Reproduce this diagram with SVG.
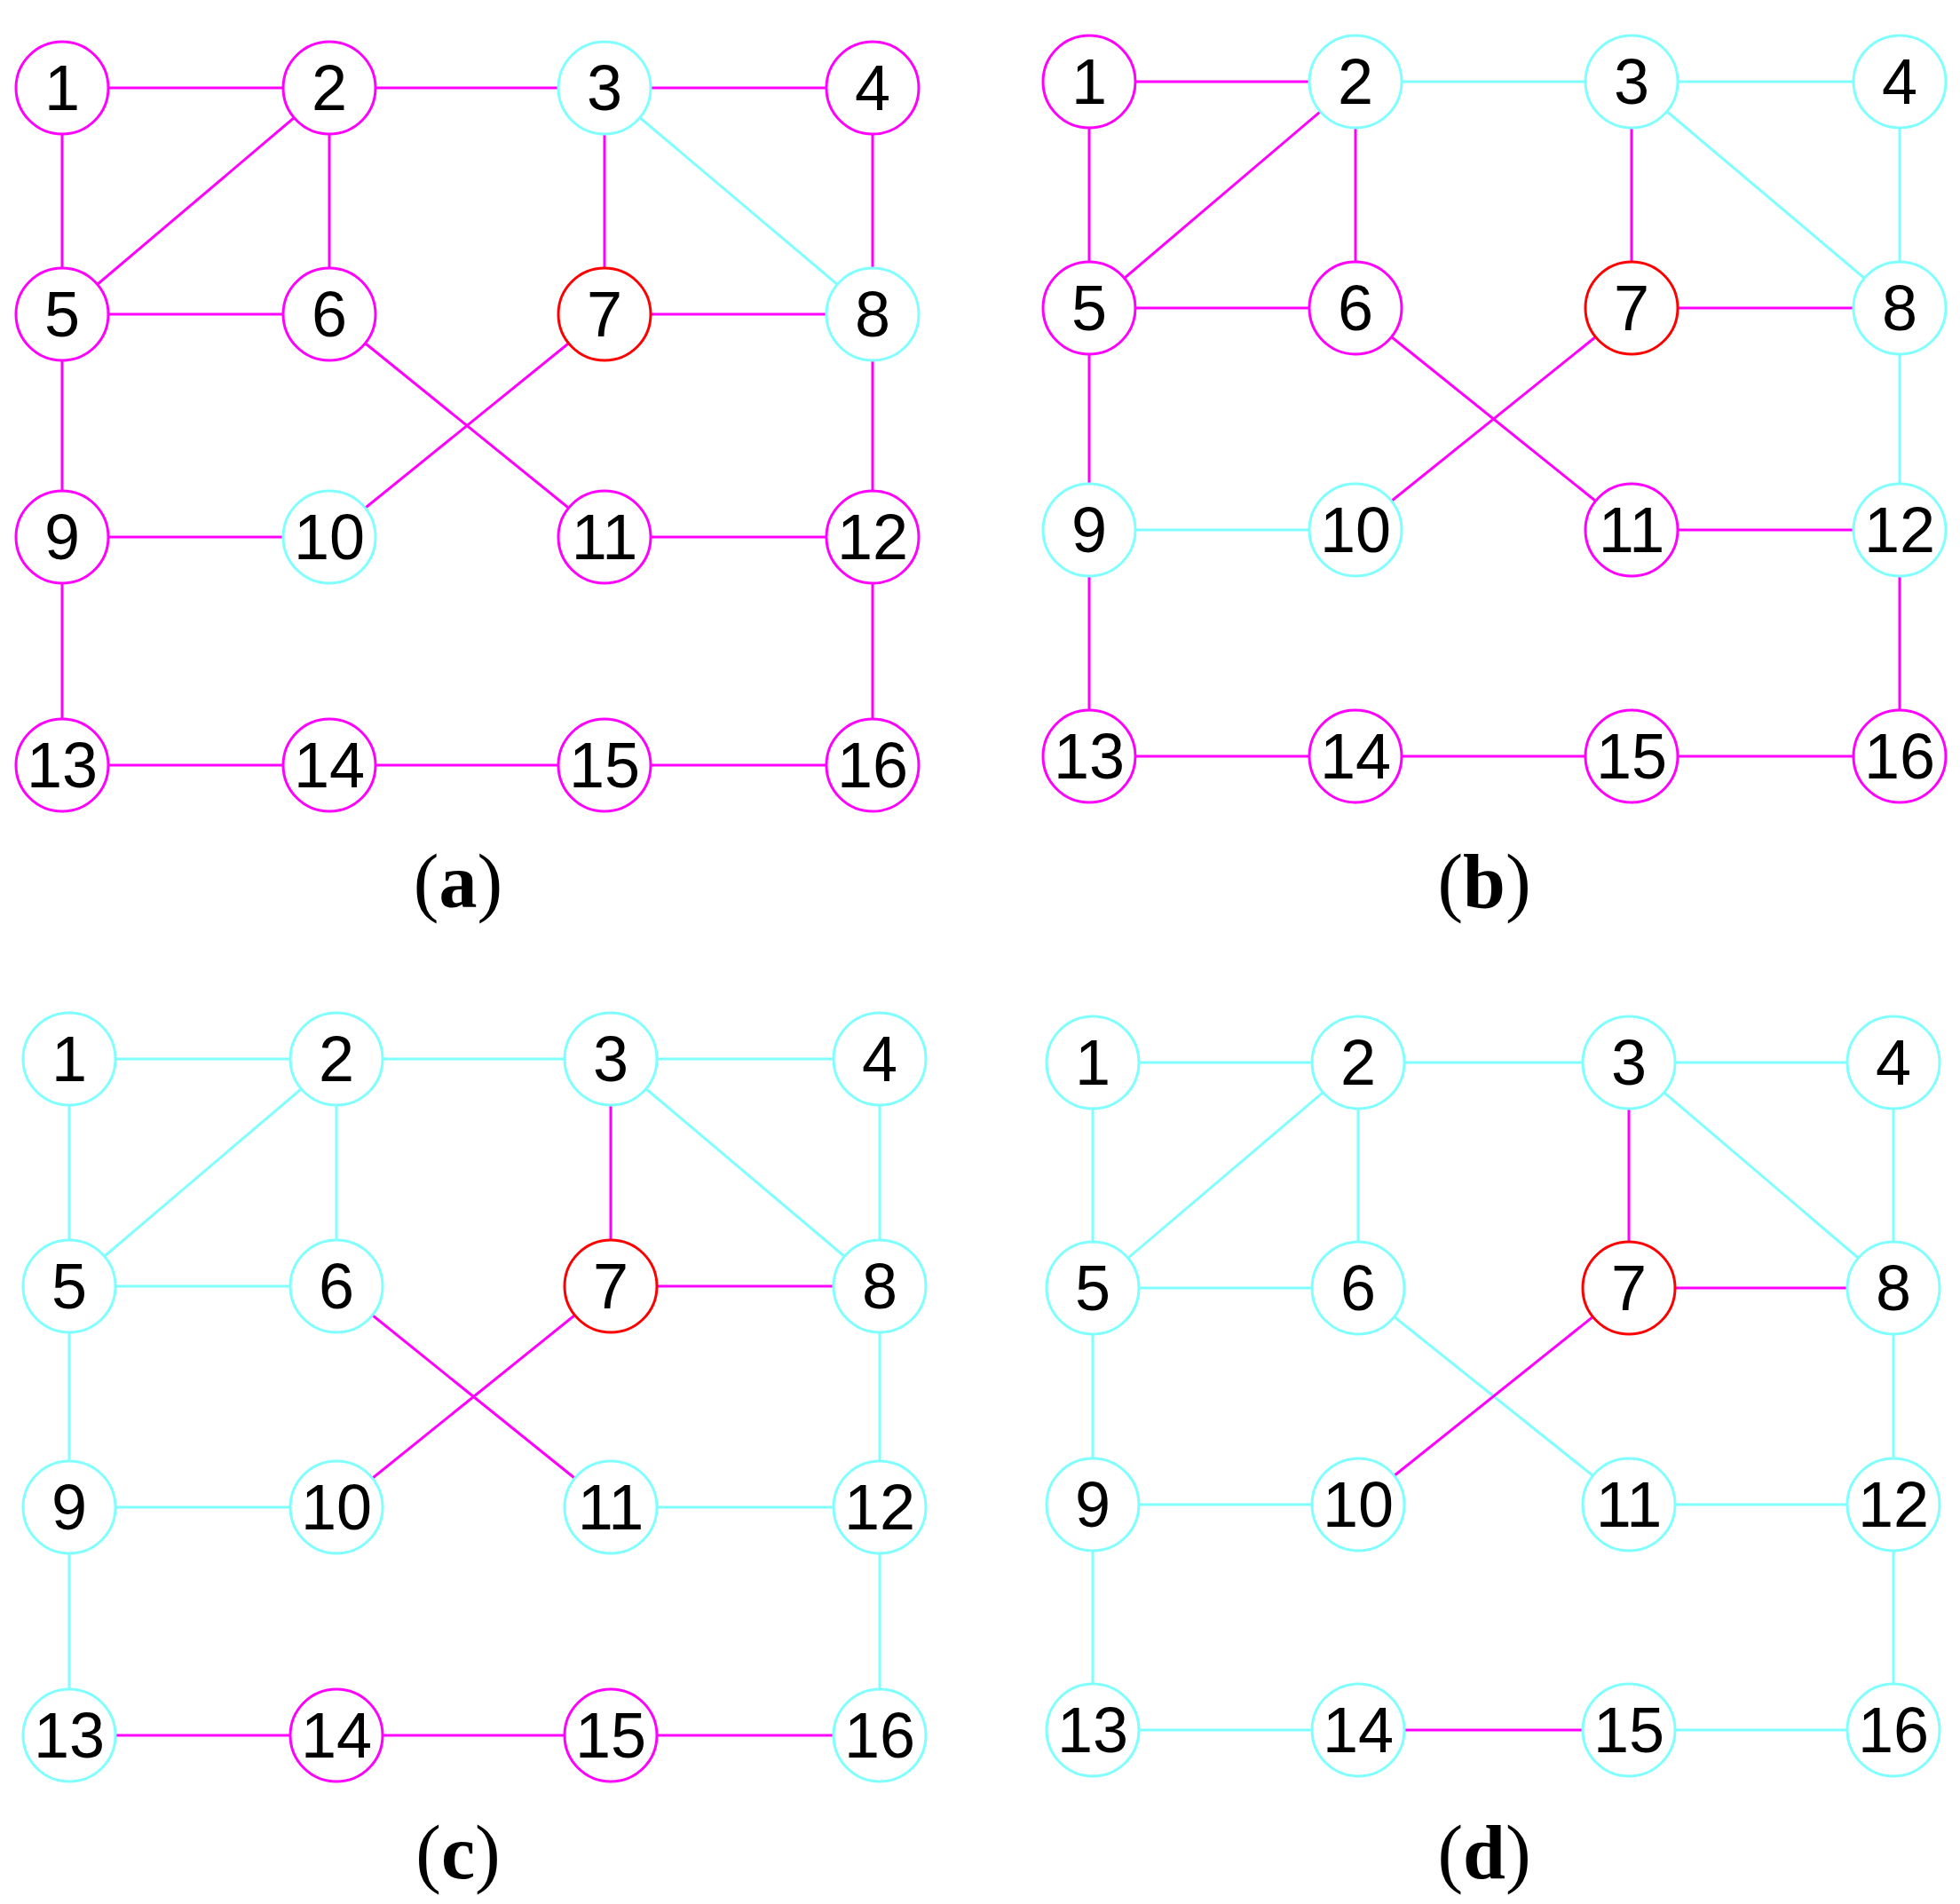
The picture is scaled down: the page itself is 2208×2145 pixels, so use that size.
<svg xmlns="http://www.w3.org/2000/svg" width="2208" height="2145" viewBox="0 0 2208 2145">
<style>
line{stroke-width:3}
.m{stroke:#FF00FF}.c{stroke:#80FFFF}.r{stroke:#FF0000}
circle{fill:#fff;stroke-width:3}
text.n{font-family:"Liberation Sans",Arial,sans-serif;font-size:72px;text-anchor:middle;dominant-baseline:central;fill:#000}
text.l{font-family:"Liberation Serif","Times New Roman",serif;font-size:86px;text-anchor:middle;fill:#000}
</style>
<rect width="2208" height="2145" fill="#fff"/>
<g id="connectors">
<line class="m" x1="70" y1="99" x2="371" y2="99"/><line class="m" x1="371" y1="99" x2="681" y2="99"/><line class="m" x1="681" y1="99" x2="983" y2="99"/>
<line class="m" x1="70" y1="99" x2="70" y2="354"/><line class="m" x1="371" y1="99" x2="70" y2="354"/><line class="m" x1="371" y1="99" x2="371" y2="354"/>
<line class="m" x1="681" y1="99" x2="681" y2="354"/><line class="c" x1="681" y1="99" x2="983" y2="354"/><line class="m" x1="983" y1="99" x2="983" y2="354"/>
<line class="m" x1="70" y1="354" x2="371" y2="354"/><line class="m" x1="681" y1="354" x2="983" y2="354"/>
<line class="m" x1="371" y1="354" x2="681" y2="605"/><line class="m" x1="681" y1="354" x2="371" y2="605"/>
<line class="m" x1="70" y1="354" x2="70" y2="605"/><line class="m" x1="983" y1="354" x2="983" y2="605"/>
<line class="m" x1="70" y1="605" x2="371" y2="605"/><line class="m" x1="681" y1="605" x2="983" y2="605"/>
<line class="m" x1="70" y1="605" x2="70" y2="862"/><line class="m" x1="983" y1="605" x2="983" y2="862"/>
<line class="m" x1="70" y1="862" x2="371" y2="862"/><line class="m" x1="371" y1="862" x2="681" y2="862"/><line class="m" x1="681" y1="862" x2="983" y2="862"/>
<line class="m" x1="1227" y1="92" x2="1527" y2="92"/><line class="c" x1="1527" y1="92" x2="1838" y2="92"/><line class="c" x1="1838" y1="92" x2="2140" y2="92"/>
<line class="m" x1="1227" y1="92" x2="1227" y2="347"/><line class="m" x1="1527" y1="92" x2="1227" y2="347"/><line class="m" x1="1527" y1="92" x2="1527" y2="347"/>
<line class="m" x1="1838" y1="92" x2="1838" y2="347"/><line class="c" x1="1838" y1="92" x2="2140" y2="347"/><line class="c" x1="2140" y1="92" x2="2140" y2="347"/>
<line class="m" x1="1227" y1="347" x2="1527" y2="347"/><line class="m" x1="1838" y1="347" x2="2140" y2="347"/>
<line class="m" x1="1527" y1="347" x2="1838" y2="597"/><line class="m" x1="1838" y1="347" x2="1527" y2="597"/>
<line class="m" x1="1227" y1="347" x2="1227" y2="597"/><line class="c" x1="2140" y1="347" x2="2140" y2="597"/>
<line class="c" x1="1227" y1="597" x2="1527" y2="597"/><line class="m" x1="1838" y1="597" x2="2140" y2="597"/>
<line class="m" x1="1227" y1="597" x2="1227" y2="852"/><line class="m" x1="2140" y1="597" x2="2140" y2="852"/>
<line class="m" x1="1227" y1="852" x2="1527" y2="852"/><line class="m" x1="1527" y1="852" x2="1838" y2="852"/><line class="m" x1="1838" y1="852" x2="2140" y2="852"/>
<line class="c" x1="78" y1="1193" x2="379" y2="1193"/><line class="c" x1="379" y1="1193" x2="688" y2="1193"/><line class="c" x1="688" y1="1193" x2="991" y2="1193"/>
<line class="c" x1="78" y1="1193" x2="78" y2="1449"/><line class="c" x1="379" y1="1193" x2="78" y2="1449"/><line class="c" x1="379" y1="1193" x2="379" y2="1449"/>
<line class="m" x1="688" y1="1193" x2="688" y2="1449"/><line class="c" x1="688" y1="1193" x2="991" y2="1449"/><line class="c" x1="991" y1="1193" x2="991" y2="1449"/>
<line class="c" x1="78" y1="1449" x2="379" y2="1449"/><line class="m" x1="688" y1="1449" x2="991" y2="1449"/>
<line class="m" x1="379" y1="1449" x2="688" y2="1698"/><line class="m" x1="688" y1="1449" x2="379" y2="1698"/>
<line class="c" x1="78" y1="1449" x2="78" y2="1698"/><line class="c" x1="991" y1="1449" x2="991" y2="1698"/>
<line class="c" x1="78" y1="1698" x2="379" y2="1698"/><line class="c" x1="688" y1="1698" x2="991" y2="1698"/>
<line class="c" x1="78" y1="1698" x2="78" y2="1955"/><line class="c" x1="991" y1="1698" x2="991" y2="1955"/>
<line class="m" x1="78" y1="1955" x2="379" y2="1955"/><line class="m" x1="379" y1="1955" x2="688" y2="1955"/><line class="m" x1="688" y1="1955" x2="991" y2="1955"/>
<line class="c" x1="1231" y1="1197" x2="1530" y2="1197"/><line class="c" x1="1530" y1="1197" x2="1835" y2="1197"/><line class="c" x1="1835" y1="1197" x2="2133" y2="1197"/>
<line class="c" x1="1231" y1="1197" x2="1231" y2="1451"/><line class="c" x1="1530" y1="1197" x2="1231" y2="1451"/><line class="c" x1="1530" y1="1197" x2="1530" y2="1451"/>
<line class="m" x1="1835" y1="1197" x2="1835" y2="1451"/><line class="c" x1="1835" y1="1197" x2="2133" y2="1451"/><line class="c" x1="2133" y1="1197" x2="2133" y2="1451"/>
<line class="c" x1="1231" y1="1451" x2="1530" y2="1451"/><line class="m" x1="1835" y1="1451" x2="2133" y2="1451"/>
<line class="c" x1="1530" y1="1451" x2="1835" y2="1695"/><line class="m" x1="1835" y1="1451" x2="1530" y2="1695"/>
<line class="c" x1="1231" y1="1451" x2="1231" y2="1695"/><line class="c" x1="2133" y1="1451" x2="2133" y2="1695"/>
<line class="c" x1="1231" y1="1695" x2="1530" y2="1695"/><line class="c" x1="1835" y1="1695" x2="2133" y2="1695"/>
<line class="c" x1="1231" y1="1695" x2="1231" y2="1949"/><line class="c" x1="2133" y1="1695" x2="2133" y2="1949"/>
<line class="c" x1="1231" y1="1949" x2="1530" y2="1949"/><line class="m" x1="1530" y1="1949" x2="1835" y2="1949"/><line class="c" x1="1835" y1="1949" x2="2133" y2="1949"/>
</g>
<g id="panel-a">
<g id="a1"><circle class="m" cx="70" cy="99" r="52"/><text class="n" x="70" y="99">1</text></g>
<g id="a2"><circle class="m" cx="371" cy="99" r="52"/><text class="n" x="371" y="99">2</text></g>
<g id="a3"><circle class="c" cx="681" cy="99" r="52"/><text class="n" x="681" y="99">3</text></g>
<g id="a4"><circle class="m" cx="983" cy="99" r="52"/><text class="n" x="983" y="99">4</text></g>
<g id="a5"><circle class="m" cx="70" cy="354" r="52"/><text class="n" x="70" y="354">5</text></g>
<g id="a6"><circle class="m" cx="371" cy="354" r="52"/><text class="n" x="371" y="354">6</text></g>
<g id="a7"><circle class="r" cx="681" cy="354" r="52"/><text class="n" x="681" y="354">7</text></g>
<g id="a8"><circle class="c" cx="983" cy="354" r="52"/><text class="n" x="983" y="354">8</text></g>
<g id="a9"><circle class="m" cx="70" cy="605" r="52"/><text class="n" x="70" y="605">9</text></g>
<g id="a10"><circle class="c" cx="371" cy="605" r="52"/><text class="n" x="371" y="605">10</text></g>
<g id="a11"><circle class="m" cx="681" cy="605" r="52"/><text class="n" x="681" y="605">11</text></g>
<g id="a12"><circle class="m" cx="983" cy="605" r="52"/><text class="n" x="983" y="605">12</text></g>
<g id="a13"><circle class="m" cx="70" cy="862" r="52"/><text class="n" x="70" y="862">13</text></g>
<g id="a14"><circle class="m" cx="371" cy="862" r="52"/><text class="n" x="371" y="862">14</text></g>
<g id="a15"><circle class="m" cx="681" cy="862" r="52"/><text class="n" x="681" y="862">15</text></g>
<g id="a16"><circle class="m" cx="983" cy="862" r="52"/><text class="n" x="983" y="862">16</text></g>
<text class="l" x="516" y="1022">(<tspan font-weight="bold">a</tspan>)</text>
</g>
<g id="panel-b">
<g id="b1"><circle class="m" cx="1227" cy="92" r="52"/><text class="n" x="1227" y="92">1</text></g>
<g id="b2"><circle class="c" cx="1527" cy="92" r="52"/><text class="n" x="1527" y="92">2</text></g>
<g id="b3"><circle class="c" cx="1838" cy="92" r="52"/><text class="n" x="1838" y="92">3</text></g>
<g id="b4"><circle class="c" cx="2140" cy="92" r="52"/><text class="n" x="2140" y="92">4</text></g>
<g id="b5"><circle class="m" cx="1227" cy="347" r="52"/><text class="n" x="1227" y="347">5</text></g>
<g id="b6"><circle class="m" cx="1527" cy="347" r="52"/><text class="n" x="1527" y="347">6</text></g>
<g id="b7"><circle class="r" cx="1838" cy="347" r="52"/><text class="n" x="1838" y="347">7</text></g>
<g id="b8"><circle class="c" cx="2140" cy="347" r="52"/><text class="n" x="2140" y="347">8</text></g>
<g id="b9"><circle class="c" cx="1227" cy="597" r="52"/><text class="n" x="1227" y="597">9</text></g>
<g id="b10"><circle class="c" cx="1527" cy="597" r="52"/><text class="n" x="1527" y="597">10</text></g>
<g id="b11"><circle class="m" cx="1838" cy="597" r="52"/><text class="n" x="1838" y="597">11</text></g>
<g id="b12"><circle class="c" cx="2140" cy="597" r="52"/><text class="n" x="2140" y="597">12</text></g>
<g id="b13"><circle class="m" cx="1227" cy="852" r="52"/><text class="n" x="1227" y="852">13</text></g>
<g id="b14"><circle class="m" cx="1527" cy="852" r="52"/><text class="n" x="1527" y="852">14</text></g>
<g id="b15"><circle class="m" cx="1838" cy="852" r="52"/><text class="n" x="1838" y="852">15</text></g>
<g id="b16"><circle class="m" cx="2140" cy="852" r="52"/><text class="n" x="2140" y="852">16</text></g>
<text class="l" x="1672" y="1022">(<tspan font-weight="bold">b</tspan>)</text>
</g>
<g id="panel-c">
<g id="c1"><circle class="c" cx="78" cy="1193" r="52"/><text class="n" x="78" y="1193">1</text></g>
<g id="c2"><circle class="c" cx="379" cy="1193" r="52"/><text class="n" x="379" y="1193">2</text></g>
<g id="c3"><circle class="c" cx="688" cy="1193" r="52"/><text class="n" x="688" y="1193">3</text></g>
<g id="c4"><circle class="c" cx="991" cy="1193" r="52"/><text class="n" x="991" y="1193">4</text></g>
<g id="c5"><circle class="c" cx="78" cy="1449" r="52"/><text class="n" x="78" y="1449">5</text></g>
<g id="c6"><circle class="c" cx="379" cy="1449" r="52"/><text class="n" x="379" y="1449">6</text></g>
<g id="c7"><circle class="r" cx="688" cy="1449" r="52"/><text class="n" x="688" y="1449">7</text></g>
<g id="c8"><circle class="c" cx="991" cy="1449" r="52"/><text class="n" x="991" y="1449">8</text></g>
<g id="c9"><circle class="c" cx="78" cy="1698" r="52"/><text class="n" x="78" y="1698">9</text></g>
<g id="c10"><circle class="c" cx="379" cy="1698" r="52"/><text class="n" x="379" y="1698">10</text></g>
<g id="c11"><circle class="c" cx="688" cy="1698" r="52"/><text class="n" x="688" y="1698">11</text></g>
<g id="c12"><circle class="c" cx="991" cy="1698" r="52"/><text class="n" x="991" y="1698">12</text></g>
<g id="c13"><circle class="c" cx="78" cy="1955" r="52"/><text class="n" x="78" y="1955">13</text></g>
<g id="c14"><circle class="m" cx="379" cy="1955" r="52"/><text class="n" x="379" y="1955">14</text></g>
<g id="c15"><circle class="m" cx="688" cy="1955" r="52"/><text class="n" x="688" y="1955">15</text></g>
<g id="c16"><circle class="c" cx="991" cy="1955" r="52"/><text class="n" x="991" y="1955">16</text></g>
<text class="l" x="516" y="2116">(<tspan font-weight="bold">c</tspan>)</text>
</g>
<g id="panel-d">
<g id="d1"><circle class="c" cx="1231" cy="1197" r="52"/><text class="n" x="1231" y="1197">1</text></g>
<g id="d2"><circle class="c" cx="1530" cy="1197" r="52"/><text class="n" x="1530" y="1197">2</text></g>
<g id="d3"><circle class="c" cx="1835" cy="1197" r="52"/><text class="n" x="1835" y="1197">3</text></g>
<g id="d4"><circle class="c" cx="2133" cy="1197" r="52"/><text class="n" x="2133" y="1197">4</text></g>
<g id="d5"><circle class="c" cx="1231" cy="1451" r="52"/><text class="n" x="1231" y="1451">5</text></g>
<g id="d6"><circle class="c" cx="1530" cy="1451" r="52"/><text class="n" x="1530" y="1451">6</text></g>
<g id="d7"><circle class="r" cx="1835" cy="1451" r="52"/><text class="n" x="1835" y="1451">7</text></g>
<g id="d8"><circle class="c" cx="2133" cy="1451" r="52"/><text class="n" x="2133" y="1451">8</text></g>
<g id="d9"><circle class="c" cx="1231" cy="1695" r="52"/><text class="n" x="1231" y="1695">9</text></g>
<g id="d10"><circle class="c" cx="1530" cy="1695" r="52"/><text class="n" x="1530" y="1695">10</text></g>
<g id="d11"><circle class="c" cx="1835" cy="1695" r="52"/><text class="n" x="1835" y="1695">11</text></g>
<g id="d12"><circle class="c" cx="2133" cy="1695" r="52"/><text class="n" x="2133" y="1695">12</text></g>
<g id="d13"><circle class="c" cx="1231" cy="1949" r="52"/><text class="n" x="1231" y="1949">13</text></g>
<g id="d14"><circle class="c" cx="1530" cy="1949" r="52"/><text class="n" x="1530" y="1949">14</text></g>
<g id="d15"><circle class="c" cx="1835" cy="1949" r="52"/><text class="n" x="1835" y="1949">15</text></g>
<g id="d16"><circle class="c" cx="2133" cy="1949" r="52"/><text class="n" x="2133" y="1949">16</text></g>
<text class="l" x="1672" y="2116">(<tspan font-weight="bold">d</tspan>)</text>
</g>
</svg>
